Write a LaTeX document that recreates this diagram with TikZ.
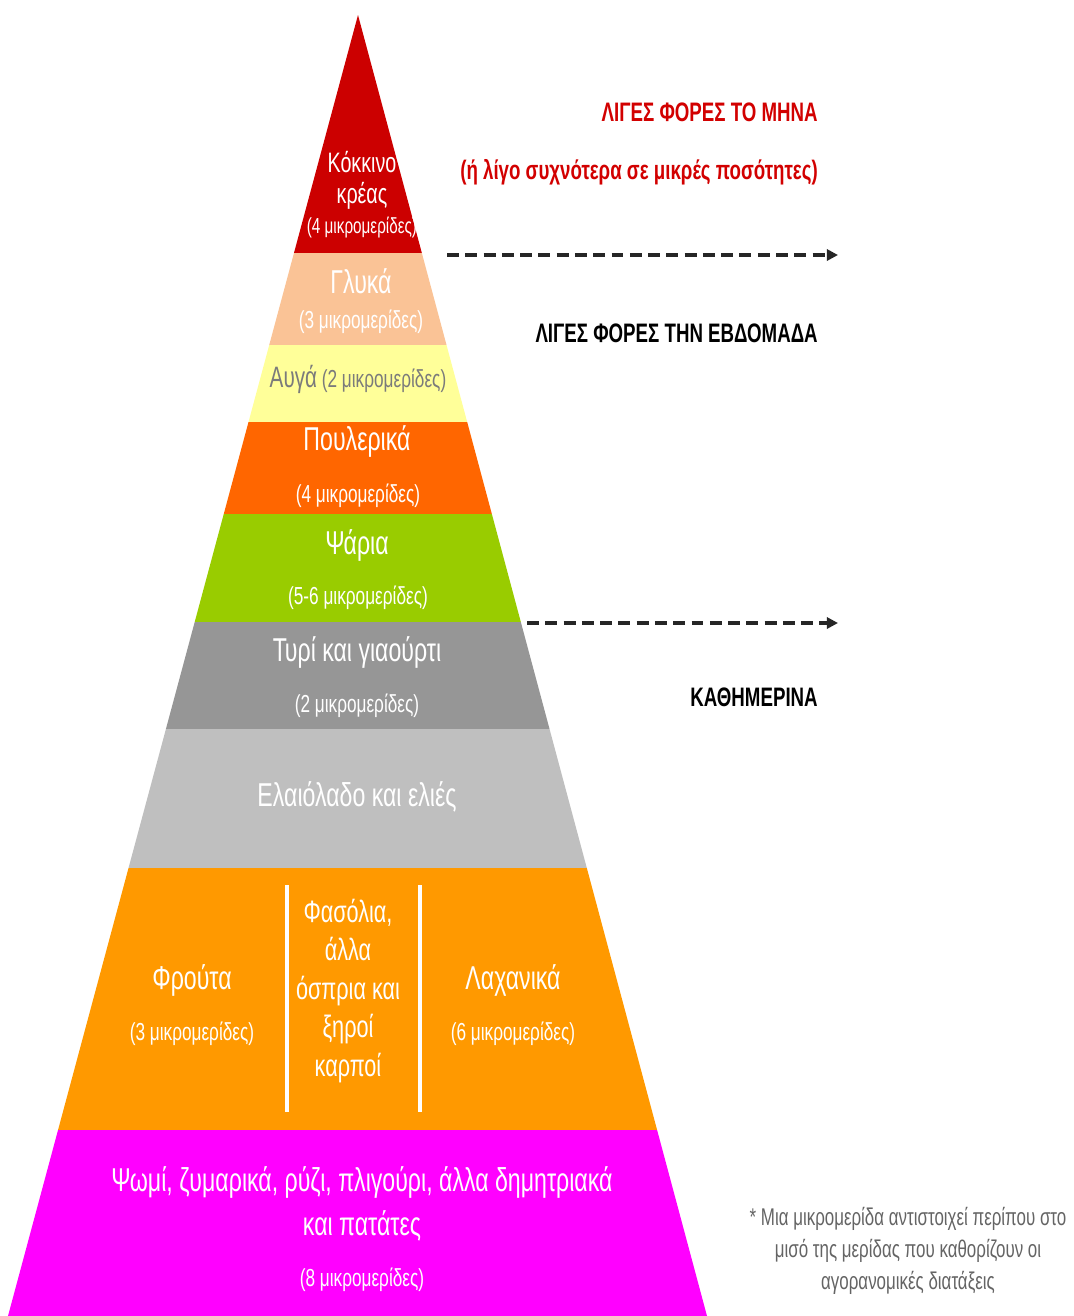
\documentclass[tikz,border=0pt]{standalone}
\usepackage{fontspec}
\newfontfamily\narrowsans[FakeStretch=0.7]{Liberation Sans}
\usetikzlibrary{arrows.meta}
\definecolor{meatred}{RGB}{204,0,0}
\definecolor{sweetpeach}{RGB}{250,195,150}
\definecolor{eggyellow}{RGB}{255,255,153}
\definecolor{poultryorange}{RGB}{255,102,0}
\definecolor{fishgreen}{RGB}{153,204,0}
\definecolor{dairygray}{RGB}{150,150,150}
\definecolor{oilgray}{RGB}{191,191,191}
\definecolor{fruitorange}{RGB}{255,153,0}
\definecolor{cerealpink}{RGB}{255,0,255}
\definecolor{monthred}{RGB}{210,0,0}
\definecolor{notegray}{RGB}{100,100,100}

\begin{document}
\begin{tikzpicture}[
    x=0.025cm, y=-0.025cm,
    biglabel/.style={text=white, inner sep=0pt, align=center,
        font=\narrowsans\fontsize{23.5}{27.5}\selectfont},
    smalllabel/.style={text=white, inner sep=0pt,
        font=\narrowsans\fontsize{17.5}{20}\selectfont},
    sidelabel/.style={anchor=east, inner sep=0pt,
        font=\narrowsans\bfseries\fontsize{19}{23}\selectfont},
    guide/.style={-{Triangle[length=8pt,width=8pt]}, line width=2.6pt,
        dash pattern=on 8.5pt off 4.5pt, black!85}
]
    \useasboundingbox (0,0) rectangle (1073,1316);

    \begin{scope}
        \clip (358,15) -- (8,1316) -- (707,1316) -- cycle;
        \foreach \ytop/\ybot/\col in {15/253/meatred, 253/345/sweetpeach,
            345/422/eggyellow, 422/514/poultryorange, 514/622/fishgreen,
            622/729/dairygray, 729/868/oilgray, 868/1130/fruitorange,
            1130/1316/cerealpink}
            \fill[\col] (0,\ytop) rectangle (1073,\ybot);
    \end{scope}

    \node[biglabel, font=\narrowsans\fontsize{20}{24}\selectfont] (meat) at (362,162) {Κόκκινο};
    \node[biglabel, font=\narrowsans\fontsize{20}{24}\selectfont] (meatb) at (362,196) {κρέας};
    \node[smalllabel, font=\narrowsans\fontsize{15.5}{18}\selectfont] (meatn) at (362,228) {(4 μικρομερίδες)};

    \node[biglabel] (sweets) at (361,281) {Γλυκά};
    \node[smalllabel] (sweetsn) at (361,322) {(3 μικρομερίδες)};

    \node[smalllabel, text=notegray!85] (eggs) at (358,379)
        {{\fontsize{21}{24}\selectfont Αυγά} (2 μικρομερίδες)};

    \node[biglabel] (poultry) at (357,441) {Πουλερικά};
    \node[smalllabel] (poultryn) at (358,496) {(4 μικρομερίδες)};

    \node[biglabel] (fish) at (357,545) {Ψάρια};
    \node[smalllabel] (fishn) at (358,598) {(5-6 μικρομερίδες)};

    \node[biglabel] (dairy) at (357,652) {Τυρί και γιαούρτι};
    \node[smalllabel] (dairyn) at (357,706) {(2 μικρομερίδες)};

    \node[biglabel] (oil) at (357,797) {Ελαιόλαδο και ελιές};

    \node[biglabel] (fruits) at (192,980) {Φρούτα};
    \node[smalllabel] (fruitsn) at (192,1034) {(3 μικρομερίδες)};
    \node[biglabel, font=\narrowsans\fontsize{22}{27.4}\selectfont] (legumes) at (348,991)
        {Φασόλια,\\άλλα\\όσπρια και\\ξηροί\\καρποί};
    \node[biglabel] (veg) at (513,980) {Λαχανικά};
    \node[smalllabel] (vegn) at (513,1034) {(6 μικρομερίδες)};
    \draw[white, line width=2.8pt] (287,885) -- (287,1112);
    \draw[white, line width=2.8pt] (420,885) -- (420,1112);

    \node[biglabel, font=\narrowsans\fontsize{23.5}{31}\selectfont] (cereals) at (362,1204)
        {Ψωμί, ζυμαρικά, ρύζι, πλιγούρι, άλλα δημητριακά\\και πατάτες};
    \node[smalllabel] (cerealsn) at (362,1280) {(8 μικρομερίδες)};

    \node[sidelabel, text=monthred] (monthly) at (818,112) {ΛΙΓΕΣ ΦΟΡΕΣ ΤΟ ΜΗΝΑ};
    \node[sidelabel, text=monthred] (monthlyn) at (818,172) {(ή λίγο συχνότερα σε μικρές ποσότητες)};
    \node[sidelabel] (weekly) at (818,333) {ΛΙΓΕΣ ΦΟΡΕΣ ΤΗΝ ΕΒΔΟΜΑΔΑ};
    \node[sidelabel] (daily) at (818,697) {ΚΑΘΗΜΕΡΙΝΑ};

    \coordinate (monthstart) at (447,255);
    \coordinate (monthend) at (838,255);
    \coordinate (weekstart) at (527,623);
    \coordinate (weekend) at (838,623);
    \draw[guide] (monthstart) -- (monthend);
    \draw[guide] (weekstart) -- (weekend);

    \node[inner sep=0pt, align=center, text=notegray,
        font=\narrowsans\fontsize{17.2}{22.5}\selectfont] (note) at (908,1251)
        {* Μια μικρομερίδα αντιστοιχεί περίπου στο\\μισό της μερίδας που καθορίζουν οι\\αγορανομικές διατάξεις};
\end{tikzpicture}
\end{document}
